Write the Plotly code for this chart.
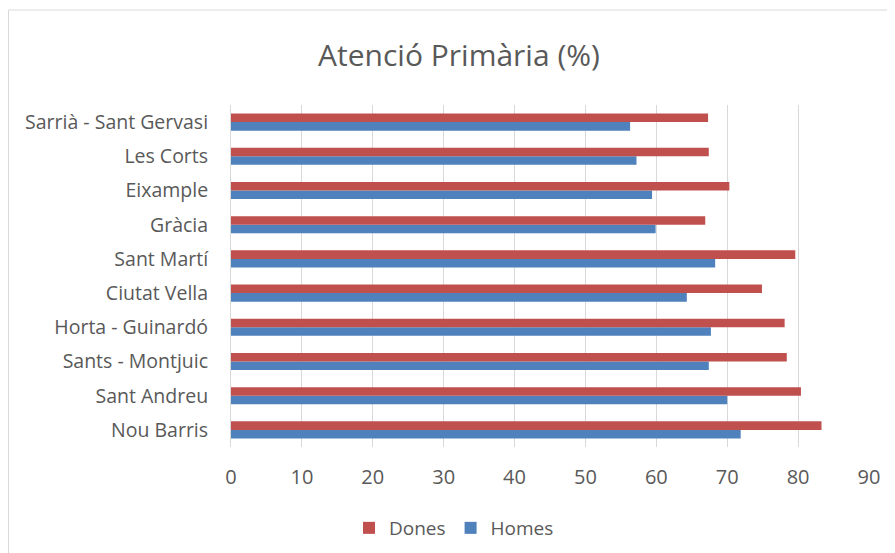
import plotly.graph_objects as go

districts = ["Nou Barris", "Sant Andreu", "Sants - Montjuic", "Horta - Guinardó", "Ciutat Vella",
             "Sant Martí", "Gràcia", "Eixample", "Les Corts", "Sarrià - Sant Gervasi"]
dones = [83.3, 80.4, 78.4, 78.1, 74.9, 79.6, 66.9, 70.3, 67.4, 67.3]
homes = [71.9, 70.0, 67.4, 67.7, 64.3, 68.3, 59.9, 59.4, 57.2, 56.3]
x_ticks = [0, 10, 20, 30, 40, 50, 60, 70, 80, 90]

FONT = "Open Sans, Lato, sans-serif"
GRAY = "#595959"

W, H = 887, 545          # page body has an 8px margin
L, R, T, B = 223, 26, 97, 106
PW, PH = W - L - R, H - T - B

fig = go.Figure()
fig.add_trace(go.Bar(y=districts, x=homes, orientation="h", name="Homes",
                     marker=dict(color="#4F81BD", line=dict(width=0)), legendrank=2))
fig.add_trace(go.Bar(y=districts, x=dones, orientation="h", name="Dones",
                     marker=dict(color="#C0504D", line=dict(width=0)), legendrank=1))

fig.update_layout(
    width=W, height=H,
    margin=dict(l=L, r=R, t=T, b=B, autoexpand=False),
    paper_bgcolor="white", plot_bgcolor="white",
    barmode="group", bargap=0.5, bargroupgap=0,
    title=dict(text="Atenció Primària (%)", x=451 / W, xanchor="center",
               y=1 - 47 / H, yanchor="middle",
               font=dict(family=FONT, size=30, color=GRAY)),
    font=dict(family=FONT, size=19, color=GRAY),
    xaxis=dict(range=[0, 90], tickvals=x_ticks, showgrid=True, gridcolor="#d9d9d9", gridwidth=1,
               zeroline=False, showline=False, ticks="", ticklabelstandoff=16,
               tickfont=dict(size=20, color=GRAY)),
    yaxis=dict(showgrid=False, zeroline=False, showline=True, linecolor="#d9d9d9", ticks="",
               ticklabelstandoff=18, tickfont=dict(size=19.5, color=GRAY)),
    legend=dict(orientation="h", x=(446 - L) / PW, xanchor="center",
                y=-(520 - T - PH) / PH, yanchor="middle",
                font=dict(size=19, color=GRAY), itemwidth=30, traceorder="normal"),
    showlegend=True,
    shapes=[dict(type="rect", xref="paper", yref="paper",
                 x0=(0.5 - L) / PW, x1=(W + 5 - L) / PW,
                 y0=-(H + 5 - T - PH) / PH, y1=1 + (T - 2) / PH,
                 line=dict(color="#d9d9d9", width=1))],
)

fig.write_html("out.html")
